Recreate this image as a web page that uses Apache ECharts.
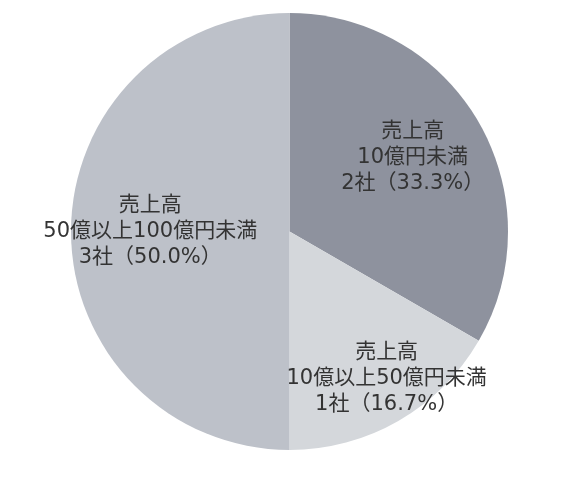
<!DOCTYPE html>
<html>
<head>
    <meta charset="utf-8">
    <title>売上高別 社数</title>
    <script src="https://cdn.jsdelivr.net/npm/echarts@6/dist/echarts.min.js"></script>
    <style type="text/css">
        html, body {
            margin: 0;
            padding: 0;
            background: #fff;
        }
        #main {
            width: 568px;
            height: 477px;
        }
    </style>
</head>
<body>
<div id="main"></div>
<script type="text/javascript">
    // 区分と社数
    var categories = ['売上高\n10億円未満', '売上高\n10億以上50億円未満', '売上高\n50億以上100億円未満'];
    var companyCounts = [2, 1, 3];
    var sliceColors = ['#8e929e', '#d4d7db', '#bdc1c9'];
    // ラベル位置の微調整（inside位置からのずれ）
    var labelOffsets = [[26, -18], [41, 50], [-27, 0]];

    var pieData = [];
    for (var i = 0; i < categories.length; i++) {
        pieData.push({
            name: categories[i],
            value: companyCounts[i],
            itemStyle: {color: sliceColors[i]},
            label: {offset: labelOffsets[i]}
        });
    }

    var option = {
        animation: false,
        series: [
            {
                type: 'pie',
                center: [289.5, 231.5],
                radius: 218.5,
                startAngle: 90,
                clockwise: true,
                percentPrecision: 1,
                itemStyle: {borderWidth: 0},
                label: {
                    show: true,
                    position: 'inside',
                    color: '#333333',
                    // 数字は幅広のDejaVu、漢字はNoto CJKに落ちる
                    fontFamily: '"DejaVu Sans", "Noto Sans CJK JP", sans-serif',
                    fontSize: 21,
                    lineHeight: 26,
                    align: 'center',
                    formatter: function (p) {
                        return p.name + '\n' + p.value + '社（' + p.percent.toFixed(1) + '%）';
                    }
                },
                labelLine: {show: false},
                emphasis: {disabled: true},
                data: pieData
            }
        ]
    };

    var myChart = echarts.init(document.getElementById('main'));
    myChart.setOption(option);
</script>
</body>
</html>
